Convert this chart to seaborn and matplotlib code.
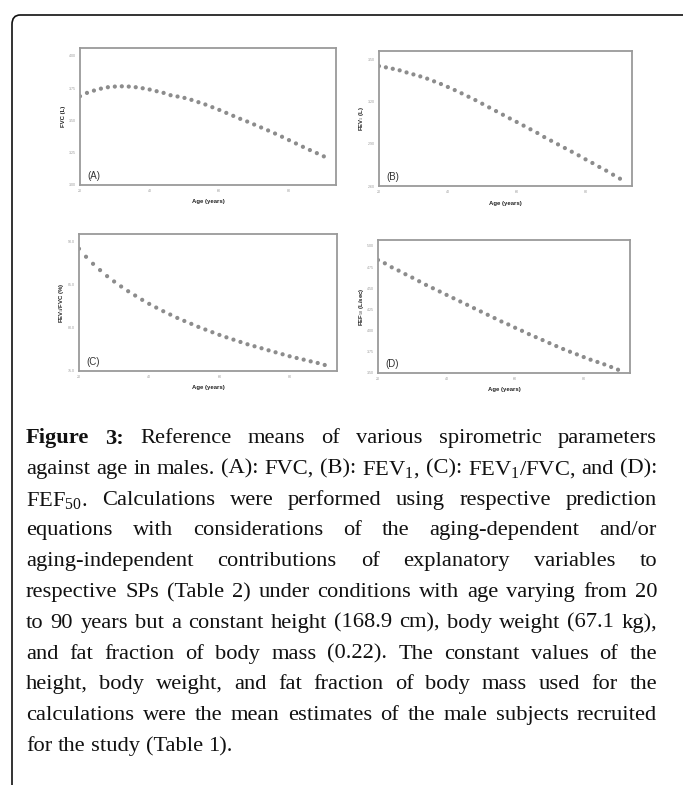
import numpy as np
import pandas as pd
import matplotlib
matplotlib.use("Agg")
import matplotlib.pyplot as plt
import seaborn as sns
from matplotlib.patches import FancyBboxPatch

# ---------------- data ----------------
ages = [20, 22, 24, 26, 28, 30, 32, 34, 36, 38, 40, 42, 44, 46, 48, 50, 52, 54,
        56, 58, 60, 62, 64, 66, 68, 70, 72, 74, 76, 78, 80, 82, 84, 86, 88, 90]

fvc = [3.688, 3.714, 3.732, 3.747, 3.758, 3.763, 3.765, 3.763, 3.758, 3.750,
       3.740, 3.727, 3.714, 3.696, 3.686, 3.675, 3.660, 3.642, 3.624, 3.603,
       3.582, 3.559, 3.536, 3.513, 3.492, 3.469, 3.446, 3.423, 3.399, 3.374,
       3.348, 3.322, 3.296, 3.271, 3.247, 3.222]

fev1 = [3.450, 3.441, 3.431, 3.420, 3.405, 3.391, 3.377, 3.361, 3.342, 3.323,
        3.302, 3.280, 3.257, 3.233, 3.209, 3.183, 3.157, 3.131, 3.105, 3.079,
        3.054, 3.028, 3.002, 2.976, 2.947, 2.921, 2.895, 2.869, 2.843, 2.817,
        2.789, 2.763, 2.735, 2.709, 2.680, 2.652]

ratio = [89.19, 88.26, 87.44, 86.71, 86.01, 85.39, 84.81, 84.26, 83.76, 83.26,
         82.79, 82.36, 81.94, 81.55, 81.16, 80.81, 80.47, 80.12, 79.81, 79.50,
         79.19, 78.91, 78.64, 78.37, 78.10, 77.87, 77.64, 77.40, 77.17, 76.94,
         76.71, 76.51, 76.32, 76.12, 75.93, 75.70]

fef50 = [4.834, 4.795, 4.748, 4.709, 4.666, 4.626, 4.583, 4.540, 4.501, 4.462,
         4.422, 4.383, 4.344, 4.305, 4.265, 4.226, 4.187, 4.148, 4.108, 4.073,
         4.034, 3.998, 3.959, 3.924, 3.889, 3.853, 3.818, 3.783, 3.751, 3.720,
         3.688, 3.657, 3.630, 3.602, 3.571, 3.539]

x_ticks = [20, 40, 60, 80]
yticks_a = [3.00, 3.25, 3.50, 3.75, 4.00]
yticks_b = [2.60, 2.90, 3.20, 3.50]
yticks_c = [75.0, 80.0, 85.0, 90.0]
yticks_d = [3.50, 3.75, 4.00, 4.25, 4.50, 4.75, 5.00]

panel_letters = ["(A)", "(B)", "(C)", "(D)"]
y_labels = ["FVC (L)", "FEV$_1$ (L)", "FEV$_1$/FVC (%)", "FEF$_{50}$ (L/sec)"]
x_label = "Age (years)"

caption_lines = [
    "Figure 3: Reference means of various spirometric parameters",
    "against age in males. (A): FVC, (B): FEV$_1$, (C): FEV$_1$/FVC, and (D):",
    "FEF$_{50}$. Calculations were performed using respective prediction",
    "equations with considerations of the aging-dependent and/or",
    "aging-independent contributions of explanatory variables to",
    "respective SPs (Table 2) under conditions with age varying from 20",
    "to 90 years but a constant height (168.9 cm), body weight (67.1 kg),",
    "and fat fraction of body mass (0.22). The constant values of the",
    "height, body weight, and fat fraction of body mass used for the",
    "calculations were the mean estimates of the male subjects recruited",
    "for the study (Table 1).",
]

# ---------------- figure ----------------
sns.set_style("white")
plt.rcParams["font.family"] = ["Liberation Sans", "DejaVu Sans"]
plt.rcParams["mathtext.fontset"] = "custom"
plt.rcParams["mathtext.rm"] = "Liberation Sans"
plt.rcParams["mathtext.it"] = "Liberation Sans:italic"
plt.rcParams["mathtext.bf"] = "Liberation Sans:bold"

W, H = 683, 785
fig = plt.figure(figsize=(W / 100, H / 100), dpi=100)
fig.patch.set_facecolor("white")

def fx(px):
    return px / W

def fy(py):
    return 1 - py / H

# axes boxes in pixels: left, top, right, bottom
boxes = [(80, 48, 336, 185), (379, 51, 632, 186),
         (79, 234, 337, 371), (378, 240, 630, 373)]
series = [fvc, fev1, ratio, fef50]
yticks_all = [yticks_a, yticks_b, yticks_c, yticks_d]
ylims = [(3.0, 4.062), (2.6, 3.557), (75.0, 90.9), (3.5, 5.07)]

spine_col = "#9a9a9a"
dot_col = "#8c8c8c"

for i in range(4):
    l, t, r, b = boxes[i]
    ax = fig.add_axes([fx(l), fy(b), (r - l) / W, (b - t) / H])
    df = pd.DataFrame({"age": ages, "val": series[i]})
    sns.scatterplot(data=df, x="age", y="val", ax=ax, color=dot_col,
                    s=9, edgecolor="none", linewidth=0)
    ax.set_xlim(20, 93.5)
    ax.set_ylim(*ylims[i])
    ax.set_xticks(x_ticks)
    ax.set_xticklabels([str(v) for v in x_ticks])
    ax.set_yticks(yticks_all[i])
    if i == 2:
        ax.set_yticklabels([f"{v:.1f}" for v in yticks_all[i]])
    else:
        ax.set_yticklabels([f"{v:.2f}" for v in yticks_all[i]])
    for sp in ax.spines.values():
        sp.set_visible(True)
        sp.set_color(spine_col)
        sp.set_linewidth(1.3)
    ax.tick_params(axis="both", which="major", direction="out", length=2,
                   width=0.6, color="#777777", labelsize=2.6,
                   labelcolor="#999999", pad=1)
    ax.set_xlabel(x_label, fontsize=4.3, fontweight="bold", color="#222222")
    ax.set_ylabel(y_labels[i], fontsize=4.3, fontweight="bold", color="#222222")
    ax.xaxis.set_label_coords(0.5, -17.0 / (b - t))
    ax.xaxis.label.set_va("center")
    ax.yaxis.set_label_coords(-17.0 / (r - l), 0.5)
    ax.yaxis.label.set_va("center")
    ax.text(0.028, 0.065, panel_letters[i], transform=ax.transAxes,
            fontsize=7, color="#333333", ha="left", va="center")

# frame
frame = FancyBboxPatch((fx(12), fy(820)), fx(700) - fx(12), fy(15) - fy(820),
                       boxstyle="round,pad=0,rounding_size=0.012",
                       transform=fig.transFigure, fill=False,
                       edgecolor="#111111", linewidth=1.2, clip_on=False)
fig.patches.append(frame)

# ---------------- caption (justified) ----------------
serif = ["Liberation Serif", "DejaVu Serif"]
left_px, right_px = 26, 657
line0_px, line_gap = 436, 30.8

renderer = fig.canvas.get_renderer()
plt.rcParams["mathtext.rm"] = "Liberation Serif"
plt.rcParams["mathtext.it"] = "Liberation Serif:italic"
plt.rcParams["mathtext.bf"] = "Liberation Serif:bold"

def word_width(word, weight, size):
    t = fig.text(0, 0, word, fontsize=size, family=serif, fontweight=weight)
    w = t.get_window_extent(renderer).width
    t.remove()
    return w

def line_words(li, line):
    words = line.split(" ")
    weights = ["bold" if (li == 0 and wi < 2) else "normal" for wi in range(len(words))]
    return words, weights

# choose font size so that the tightest line fits with normal spacing
base = 15.0
space_base = word_width("a b", "normal", base) - word_width("ab", "normal", base)
natural = []
for li, line in enumerate(caption_lines[:-1]):
    words, weights = line_words(li, line)
    natural.append(sum(word_width(w, wt, base) for w, wt in zip(words, weights))
                   + space_base * (len(words) - 1))
fs = base * (right_px - left_px) / max(natural) * 0.995

for li, line in enumerate(caption_lines):
    words, weights = line_words(li, line)
    widths = [word_width(w, wt, fs) for w, wt in zip(words, weights)]
    total = sum(widths)
    space = word_width("a b", "normal", fs) - word_width("ab", "normal", fs)
    if li < len(caption_lines) - 1 and len(words) > 1:
        gap = (right_px - left_px - total) / (len(words) - 1)
    else:
        gap = space
    y = line0_px + li * line_gap
    x = left_px
    for w, wt, ww in zip(words, weights, widths):
        fig.text(fx(x), fy(y), w, fontsize=fs, family=serif, fontweight=wt,
                 ha="left", va="center_baseline", color="#111111")
        x += ww + gap

fig.savefig("out.png", dpi=100, facecolor="white")
